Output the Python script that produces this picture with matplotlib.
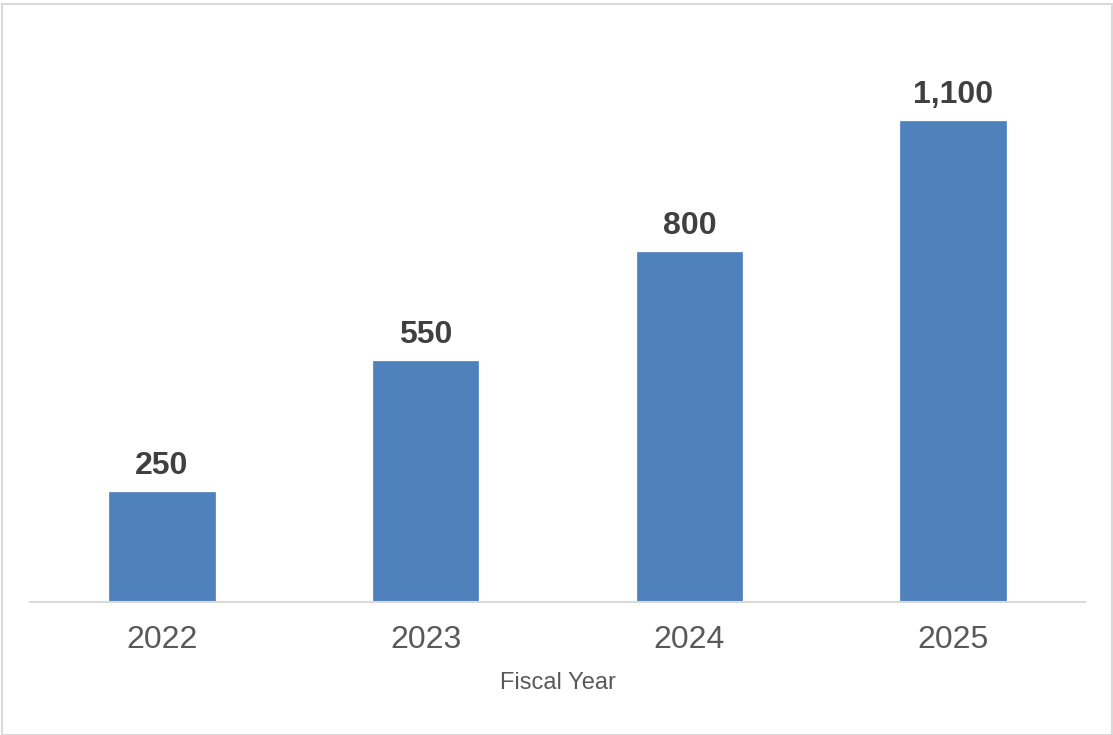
import matplotlib.pyplot as plt
from matplotlib.patches import Rectangle

years = ['2022', '2023', '2024', '2025']
values = [250, 550, 800, 1100]
value_labels = ['250', '550', '800', '1,100']

plt.rcParams['font.family'] = ['Liberation Sans', 'DejaVu Sans']

fig = plt.figure(figsize=(11.13, 7.35), dpi=100)
ax = fig.add_axes([30/1113, 133.5/735, 1055/1113, 524/735])

x = range(len(years))
ax.bar(x, values, width=0.4, color='#4F81BD', edgecolor='#4F81BD', linewidth=0.5)
ax.set_xlim(-0.5, len(years) - 0.5)
ax.set_ylim(0, 1200)

for i, v in enumerate(values):
    ax.annotate(value_labels[i], (i, v), xytext=(0, 8), textcoords='offset points',
                ha='center', va='bottom', fontsize=23, fontweight='bold', color='#404040')

ax.set_xticks(list(x))
ax.set_xticklabels(years, fontsize=23, color='#595959')
ax.tick_params(axis='x', length=0, pad=17)
ax.set_yticks([])
for s in ['top', 'right', 'left']:
    ax.spines[s].set_visible(False)
ax.spines['bottom'].set_color('#d9d9d9')
ax.spines['bottom'].set_linewidth(1.5)
ax.set_xlabel('Fiscal Year', fontsize=17, color='#595959', labelpad=12)

fig.patches.append(Rectangle((1.5/1113, 0), 1110/1113, 731/735, transform=fig.transFigure,
                             fill=False, edgecolor='#d9d9d9', linewidth=1.5))

fig.savefig('out.png', dpi=100)
